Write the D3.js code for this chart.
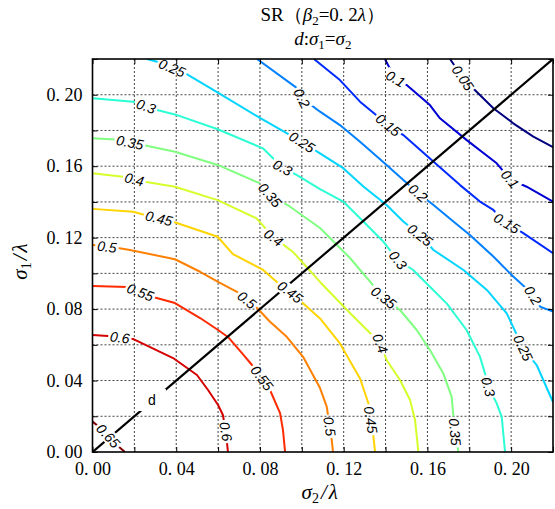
<!DOCTYPE html>
<html>
<head>
<meta charset="utf-8">
<script src="https://cdn.jsdelivr.net/npm/d3@7/dist/d3.min.js"></script>
<style>
  body { margin: 0; background: #fff; }
  svg text { font-family: "Liberation Serif", "Times New Roman", serif; fill: #000; }
  .clab { font-family: "Liberation Sans", Arial, sans-serif !important; font-style: italic; font-size: 14px; }
  .grid line { stroke: #444; stroke-width: 1; stroke-dasharray: 2,2; }
  .tick line { stroke: #000; }
  .axis text { font-size: 18px; }
</style>
</head>
<body>
<div id="chart"></div>
<script>
// SR contours, points are [sigma2/lambda, sigma1/lambda]
var levels = [0.05, 0.1, 0.15, 0.2, 0.25, 0.3, 0.35, 0.4, 0.45, 0.5, 0.55, 0.6, 0.65]

var c05 = [[0.1708,0.22],[0.1771,0.2092],[0.1835,0.2017],[0.1915,0.1924],[0.201,0.184],[0.2106,0.1765],[0.22,0.1707]]
var c10 = [[0.1397,0.22],[0.1445,0.2092],[0.1501,0.2054],[0.1612,0.1942],[0.166,0.1868],[0.1788,0.1746],[0.1931,0.1616],[0.1995,0.1528],[0.2074,0.1485],[0.22,0.1401]]
var c15 = [[0.1058,0.22],[0.1182,0.2082],[0.1278,0.1961],[0.1413,0.183],[0.1485,0.1774],[0.1612,0.1643],[0.1756,0.1494],[0.1851,0.1402],[0.1915,0.1355],[0.1979,0.1281],[0.2058,0.1225],[0.22,0.1113]]
var c20 = [[0.0786,0.22],[0.0977,0.2037],[0.1001,0.1981],[0.1087,0.1905],[0.1182,0.183],[0.1278,0.1737],[0.1405,0.1606],[0.1485,0.1522],[0.1557,0.1448],[0.1629,0.1383],[0.1724,0.129],[0.1803,0.1215],[0.1915,0.1094],[0.201,0.0982],[0.2098,0.0889],[0.2138,0.0814],[0.22,0.0786]]
var c25 = [[0.026,0.22],[0.0313,0.2183],[0.038,0.215],[0.0442,0.2121],[0.0595,0.2015],[0.08,0.187],[0.1,0.1736],[0.1087,0.1672],[0.1198,0.1589],[0.1294,0.1486],[0.1405,0.1383],[0.1485,0.129],[0.1565,0.1215],[0.1629,0.1131],[0.1772,0.1019],[0.1884,0.0907],[0.1979,0.0776],[0.2058,0.058],[0.2122,0.0487],[0.22,0.028]]
var c30 = [[0,0.198],[0.0194,0.1961],[0.0308,0.1914],[0.0404,0.1886],[0.0595,0.1808],[0.0814,0.17],[0.0905,0.1595],[0.0977,0.155],[0.1087,0.1472],[0.1198,0.1402],[0.1294,0.129],[0.1389,0.1178],[0.1459,0.1075],[0.1532,0.1019],[0.1612,0.0925],[0.1692,0.0832],[0.1787,0.0683],[0.1851,0.0534],[0.1875,0.044],[0.1891,0.0365],[0.1931,0.0272],[0.1955,0.0197],[0.1971,0]]
var c35 = [[0,0.1756],[0.0107,0.1749],[0.0241,0.1719],[0.0394,0.1681],[0.0598,0.1607],[0.08,0.1504],[0.0848,0.1439],[0.0944,0.1373],[0.1087,0.1254],[0.123,0.1086],[0.1388,0.0868],[0.1469,0.0795],[0.1549,0.0683],[0.1612,0.0571],[0.1676,0.044],[0.1716,0.0309],[0.1723,0.0216],[0.1732,0.0112],[0.1748,0]]
var c40 = [[0,0.156],[0.0146,0.1541],[0.0251,0.1513],[0.0394,0.1485],[0.0598,0.141],[0.0784,0.1308],[0.0862,0.1204],[0.0958,0.112],[0.1087,0.0952],[0.123,0.0778],[0.1374,0.061],[0.1405,0.0515],[0.1469,0.0403],[0.1517,0.0291],[0.1541,0.0179],[0.1557,0]]
var c45 = [[0,0.1361],[0.0194,0.1345],[0.0251,0.1327],[0.0385,0.1289],[0.0598,0.1205],[0.0671,0.1108],[0.0815,0.1019],[0.0881,0.0951],[0.0944,0.0896],[0.1015,0.0823],[0.1087,0.0748],[0.1182,0.0608],[0.1278,0.0412],[0.1318,0.0273],[0.1342,0.0086],[0.135,0]]
var c50 = [[0,0.1159],[0.0122,0.1142],[0.0179,0.1131],[0.0394,0.1079],[0.0514,0.1009],[0.06,0.0952],[0.069,0.0897],[0.0786,0.0806],[0.0848,0.0729],[0.0928,0.0645],[0.1006,0.0533],[0.1087,0.0358],[0.1119,0.0254],[0.1143,0.0067],[0.1149,0]]
var c55 = [[0,0.0929],[0.0165,0.0924],[0.0289,0.0868],[0.0394,0.0834],[0.0514,0.075],[0.06,0.0683],[0.0647,0.0644],[0.0714,0.0554],[0.0762,0.0487],[0.081,0.0414],[0.0848,0.0347],[0.0896,0.0218],[0.091,0.0123],[0.092,0]]
var c60 = [[0,0.0655],[0.0074,0.0649],[0.0193,0.0633],[0.0385,0.0526],[0.0499,0.0431],[0.0552,0.0347],[0.06,0.0263],[0.0623,0.0207],[0.0638,0.0106],[0.0647,0]]
var c65 = [[0,0.017],[0.005,0.0123],[0.0116,0.0039],[0.0155,0]]

// inline labels: [level, sigma2, sigma1]
var labelAt = [
  [0.65,0.0064,0.0078],
  [0.6,0.0131,0.0644],[0.6,0.0623,0.0112],
  [0.55,0.0227,0.089],[0.55,0.081,0.0414],
  [0.5,0.0069,0.1148],[0.5,0.0738,0.0851],[0.5,0.1115,0.014],
  [0.45,0.0318,0.131],[0.45,0.0944,0.0896],[0.45,0.1321,0.0179],
  [0.4,0.0198,0.1517],[0.4,0.0867,0.1204],[0.4,0.1378,0.061],
  [0.35,0.0179,0.1735],[0.35,0.0848,0.1439],[0.35,0.1393,0.0868],[0.35,0.1727,0.0112],
  [0.3,0.0256,0.1937],[0.3,0.091,0.1595],[0.3,0.1459,0.1075],[0.3,0.1889,0.0364],
  [0.25,0.038,0.215],[0.25,0.1001,0.1735],[0.25,0.1565,0.1215],[0.25,0.2056,0.0582],
  [0.2,0.1001,0.1982],[0.2,0.1555,0.145],[0.2,0.21,0.0873],
  [0.15,0.1412,0.183],[0.15,0.198,0.1282],
  [0.1,0.145,0.2094],[0.1,0.1995,0.1528],
  [0.05,0.177,0.2094]
]

var diag = [[0,0],[0.22,0.22]]
var diagLabel = [0.0284, 0.0291]

var gridTicks = [0, 0.02, 0.04, 0.06, 0.08, 0.1, 0.12, 0.14, 0.16, 0.18, 0.2, 0.22]
var labelTicks = [0, 0.04, 0.08, 0.12, 0.16, 0.2]

var lines = [c05, c10, c15, c20, c25, c30, c35, c40, c45, c50, c55, c60, c65]
var contours = levels.map((v, i) => ({ level: v, pts: lines[i] }))

var margin = { top: 59, left: 92.5 }
var width = 460.5,
    height = 393

var x = d3.scaleLinear().domain([0, 0.22]).range([0, width])
var y = d3.scaleLinear().domain([0, 0.22]).range([height, 0])

// jet colormap over the level range
var jet = d3.scaleLinear()
  .domain([0, 0.125, 0.375, 0.625, 0.875, 1])
  .range(["#000080", "#0000ff", "#00ffff", "#ffff00", "#ff0000", "#800000"])
var color = v => jet((v - 0.05) / 0.6)

var svg = d3.select("#chart").append("svg")
  .attr("width", 555)
  .attr("height", 509)

var defs = svg.append("defs")
defs.append("clipPath").attr("id", "plotclip")
  .append("rect").attr("width", width).attr("height", height)

var mask = defs.append("mask").attr("id", "labmask")
  .attr("maskUnits", "userSpaceOnUse")
  .attr("x", -20).attr("y", -20).attr("width", width + 40).attr("height", height + 40)
mask.append("rect")
  .attr("x", -20).attr("y", -20).attr("width", width + 40).attr("height", height + 40)
  .attr("fill", "white")

var g = svg.append("g")
  .attr("transform", "translate(" + margin.left + "," + margin.top + ")")

// dotted grid
var grid = g.append("g").attr("class", "grid")
grid.selectAll("line.gx").data(gridTicks.slice(1, -1)).enter().append("line")
  .attr("x1", d => x(d)).attr("x2", d => x(d))
  .attr("y1", 0).attr("y2", height)
grid.selectAll("line.gy").data(gridTicks.slice(1, -1)).enter().append("line")
  .attr("y1", d => y(d)).attr("y2", d => y(d))
  .attr("x1", 0).attr("x2", width)

var line = d3.line().x(d => x(d[0])).y(d => y(d[1]))

var cg = g.append("g")
  .attr("clip-path", "url(#plotclip)")
  .append("g")
  .attr("mask", "url(#labmask)")

cg.selectAll("path.contour")
  .data(contours)
  .enter().append("path")
  .attr("class", "contour")
  .attr("d", d => line(d.pts))
  .attr("fill", "none")
  .attr("stroke", d => color(d.level))
  .attr("stroke-width", 2)
  .attr("stroke-linejoin", "round")

cg.append("path")
  .attr("d", line(diag))
  .attr("fill", "none")
  .attr("stroke", "#000")
  .attr("stroke-width", 2.2)

// put each label on its contour, turned along the nearest segment
function placeOnLine(pts, px, py) {
  var best = null
  for (var i = 0; i < pts.length - 1; i++) {
    var ax = x(pts[i][0]), ay = y(pts[i][1]),
        bx = x(pts[i + 1][0]), by = y(pts[i + 1][1])
    var dx = bx - ax, dy = by - ay
    var t = ((px - ax) * dx + (py - ay) * dy) / (dx * dx + dy * dy)
    t = Math.max(0, Math.min(1, t))
    var qx = ax + t * dx, qy = ay + t * dy
    var dist = (qx - px) * (qx - px) + (qy - py) * (qy - py)
    if (!best || dist < best.dist) {
      var ang = Math.atan2(dy, dx) * 180 / Math.PI
      if (ang > 90) ang -= 180
      if (ang < -90) ang += 180
      best = { x: qx, y: qy, a: ang, dist: dist }
    }
  }
  return best
}

var lg = g.append("g")
labelAt.forEach(l => {
  var c = contours.find(e => e.level == l[0])
  var p = placeOnLine(c.pts, x(l[1]), y(l[2]))
  var t = lg.append("text")
    .attr("class", "clab")
    .attr("text-anchor", "middle")
    .attr("dy", "0.36em")
    .attr("transform", "translate(" + p.x + "," + p.y + ") rotate(" + p.a + ")")
    .text(String(l[0]))
  var w = t.node().getComputedTextLength()
  mask.append("rect")
    .attr("x", -w / 2 - 2).attr("y", -7)
    .attr("width", w + 4).attr("height", 14)
    .attr("transform", "translate(" + p.x + "," + p.y + ") rotate(" + p.a + ")")
    .attr("fill", "black")
})

lg.append("text")
  .attr("class", "clab")
  .style("font-style", "normal")
  .attr("text-anchor", "middle")
  .attr("dy", "0.36em")
  .attr("x", x(diagLabel[0]))
  .attr("y", y(diagLabel[1]))
  .text("d")
mask.append("rect")
  .attr("x", x(diagLabel[0]) - 14).attr("y", y(diagLabel[1]) - 11)
  .attr("width", 28).attr("height", 22)
  .attr("fill", "black")

// axes with inward ticks
var fmt = d => labelTicks.some(e => Math.abs(e - d) < 1e-9) ? d3.format(".2f")(d).replace(".", ". ") : ""

g.append("g")
  .attr("class", "axis")
  .attr("transform", "translate(0," + height + ")")
  .call(d3.axisBottom(x).tickValues(gridTicks).tickSize(-5).tickSizeOuter(0).tickPadding(10).tickFormat(fmt))
g.append("g")
  .attr("class", "axis")
  .call(d3.axisLeft(y).tickValues(gridTicks).tickSize(-5).tickSizeOuter(0).tickPadding(10).tickFormat(fmt))
g.append("g")
  .attr("class", "axis")
  .call(d3.axisTop(x).tickValues(gridTicks).tickSize(-5).tickSizeOuter(0).tickFormat(""))
g.append("g")
  .attr("class", "axis")
  .attr("transform", "translate(" + width + ",0)")
  .call(d3.axisRight(y).tickValues(gridTicks).tickSize(-5).tickSizeOuter(0).tickFormat(""))
g.selectAll(".axis .domain").remove()
g.selectAll(".axis text").attr("font-family", null).attr("font-size", null)

g.append("rect")
  .attr("width", width).attr("height", height)
  .attr("fill", "none")
  .attr("stroke", "#000")
  .attr("stroke-width", 1.6)

// axis titles
var xt = svg.append("text")
  .attr("x", margin.left + width / 2 - 3)
  .attr("y", 499)
  .attr("text-anchor", "middle")
  .style("font-size", "21px")
  .style("font-style", "italic")
xt.append("tspan").text("σ")
xt.append("tspan").attr("dy", 4).style("font-size", "14px").style("font-style", "normal").text("2")
xt.append("tspan").attr("dy", -4).attr("dx", 2).text("/")
xt.append("tspan").attr("dx", 2).text("λ")

var yt = svg.append("text")
  .attr("transform", "translate(27," + (margin.top + height / 2 + 6) + ") rotate(-90)")
  .attr("text-anchor", "middle")
  .style("font-size", "21px")
  .style("font-style", "italic")
yt.append("tspan").text("σ")
yt.append("tspan").attr("dy", 4).style("font-size", "14px").style("font-style", "normal").text("1")
yt.append("tspan").attr("dy", -4).attr("dx", 2).text("/")
yt.append("tspan").attr("dx", 2).text("λ")

// title
var t1 = svg.append("text")
  .attr("x", margin.left + width / 2)
  .attr("y", 21)
  .attr("text-anchor", "middle")
  .style("font-size", "19px")
t1.append("tspan").text("SR（")
t1.append("tspan").style("font-style", "italic").text("β")
t1.append("tspan").attr("dy", 4).style("font-size", "13px").text("2")
t1.append("tspan").attr("dy", -4).text("=0. 2")
t1.append("tspan").style("font-style", "italic").text("λ")
t1.append("tspan").text("）")

var t2 = svg.append("text")
  .attr("x", margin.left + width / 2)
  .attr("y", 45)
  .attr("text-anchor", "middle")
  .style("font-size", "19px")
  .style("font-style", "italic")
t2.append("tspan").text("d")
t2.append("tspan").style("font-style", "normal").text(":")
t2.append("tspan").text("σ")
t2.append("tspan").attr("dy", 4).style("font-size", "13px").style("font-style", "normal").text("1")
t2.append("tspan").attr("dy", -4).style("font-style", "normal").text("=")
t2.append("tspan").text("σ")
t2.append("tspan").attr("dy", 4).style("font-size", "13px").style("font-style", "normal").text("2")
</script>
</body>
</html>
